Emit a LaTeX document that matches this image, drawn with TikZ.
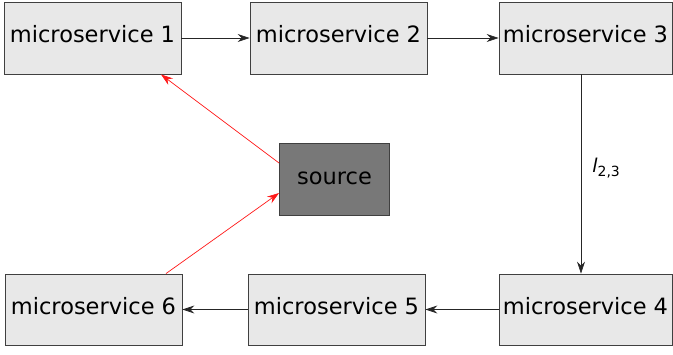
\documentclass[tikz,border=0pt]{standalone}
\usepackage{fontspec}
\setmainfont{DejaVu Sans}
\usetikzlibrary{arrows.meta}
\definecolor{boxfill}{HTML}{E8E8E8}
\definecolor{srcfill}{HTML}{787878}
\definecolor{edge}{HTML}{404040}
\begin{document}
\begin{tikzpicture}[x=1pt,y=-1pt,
  label text/.style={font=\fontsize{22.5}{24}\selectfont, text height=17pt, text depth=8pt},
  svc/.style={draw=edge, line width=0.9pt, fill=boxfill, inner sep=0pt,
    minimum height=72pt, label text},
  srcbox/.style={draw=edge, line width=0.9pt, fill=srcfill, inner sep=0pt,
    minimum width=110pt, minimum height=72pt, label text},
  tip/.style={-{Stealth[length=12pt,width=8pt,inset=4pt]}},
  flow/.style={draw=black!85, line width=0.7pt, tip},
  back/.style={draw=red!90, line width=0.7pt, tip}]
\useasboundingbox (0,0) rectangle (673,354);

% service boxes
\node[svc, minimum width=177pt] (m1) at (92.5,38) {microservice 1};
\node[svc, minimum width=177pt] (m2) at (338.5,38) {microservice 2};
\node[svc, minimum width=173pt] (m3) at (585.5,38) {microservice 3};
\node[svc, minimum width=173pt, minimum height=71pt] (m4) at (585.5,309.5) {microservice 4};
\node[svc, minimum width=177pt, minimum height=71pt] (m5) at (336.5,309.5) {microservice 5};
\node[svc, minimum width=177pt, minimum height=71pt] (m6) at (93.5,309.5) {microservice 6};

% central source
\node[srcbox] (src) at (334.5,179.5) {source};

% forward chain
\draw[flow] (m1.east) -- (m2.west);
\draw[flow] (m2.east) -- (m3.west);
\draw[flow] ([xshift=-4.5pt]m3.south) -- node[right=11pt, pos=0.47, inner sep=0pt]
  {{\fontsize{19}{19}\selectfont\itshape l}\raisebox{-4pt}{\fontsize{14}{14}\selectfont 2,3}}
  ([xshift=-4.5pt]m4.north);
\draw[flow] (m4.west) -- (m5.east);
\draw[flow] (m5.west) -- (m6.east);

% links through the source
\draw[back] ([yshift=16.5pt]src.west) -- ([xshift=68.5pt]m1.south);
\draw[back] ([xshift=72.5pt]m6.north) -- ([yshift=-13.5pt]src.west);
\end{tikzpicture}
\end{document}
